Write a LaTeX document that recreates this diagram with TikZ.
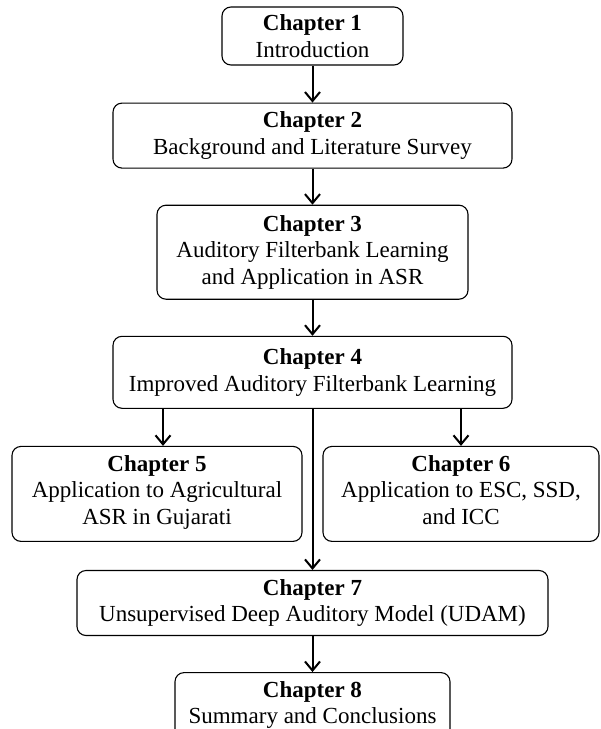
\documentclass[tikz,border=0pt]{standalone}
\usepackage{fontspec}
\setmainfont{Liberation Serif}
\usetikzlibrary{positioning, arrows.meta}

\begin{document}
\begin{tikzpicture}[
  node distance=36pt,
  box/.style={rectangle, draw, rounded corners=9pt, line width=1.1pt, align=center, inner sep=0pt, minimum height=65pt, font=\fontsize{23}{26.5}\selectfont},
  arrow/.style={-{Straight Barb[length=9pt,width=15pt]}, line width=2pt}
]
  \useasboundingbox (0,0) rectangle (601pt,-729pt);

  % Main chapters
  \node[box, minimum width=181pt, minimum height=58pt] (ch1) at (312.5pt,-36pt) {\textbf{Chapter 1}\\Introduction};
  \node[box, minimum width=399pt, below=37pt of ch1] (ch2) {\textbf{Chapter 2}\\Background and Literature Survey};
  \node[box, minimum width=311pt, minimum height=94pt, below=of ch2] (ch3) {\textbf{Chapter 3}\\Auditory Filterbank Learning\\and Application in ASR};
  \node[box, minimum width=399pt, minimum height=72pt, below=of ch3] (ch4) {\textbf{Chapter 4}\\Improved Auditory Filterbank Learning};

  % Applications
  \node[box, minimum width=290pt, minimum height=95pt, below=37pt of ch4, xshift=-155.5pt] (ch5) {\textbf{Chapter 5}\\Application to Agricultural\\ASR in Gujarati\strut};
  \node[box, minimum width=276pt, minimum height=95pt, below=37pt of ch4, xshift=148.5pt] (ch6) {\textbf{Chapter 6}\\Application to ESC, SSD,\\and ICC\strut};

  % Final chapters
  \node[box, minimum width=471pt, anchor=north] (ch7) at ([yshift=-28pt]ch5.south -| ch4.south) {\textbf{Chapter 7}\\Unsupervised Deep Auditory Model (UDAM)};
  \node[box, minimum width=275pt, below=of ch7] (ch8) {\textbf{Chapter 8}\\Summary and Conclusions};

  % Arrows between chapters
  \draw[arrow] (ch1) -- (ch2);
  \draw[arrow] (ch2) -- (ch3);
  \draw[arrow] (ch3) -- (ch4);
  \draw[arrow] ([xshift=6pt]ch5.north |- ch4.south) -- ([xshift=6pt]ch5.north);
  \draw[arrow] (ch6.north |- ch4.south) -- (ch6);
  \draw[arrow] (ch4) -- (ch7);
  \draw[arrow] (ch7) -- (ch8);

\end{tikzpicture}
\end{document}
